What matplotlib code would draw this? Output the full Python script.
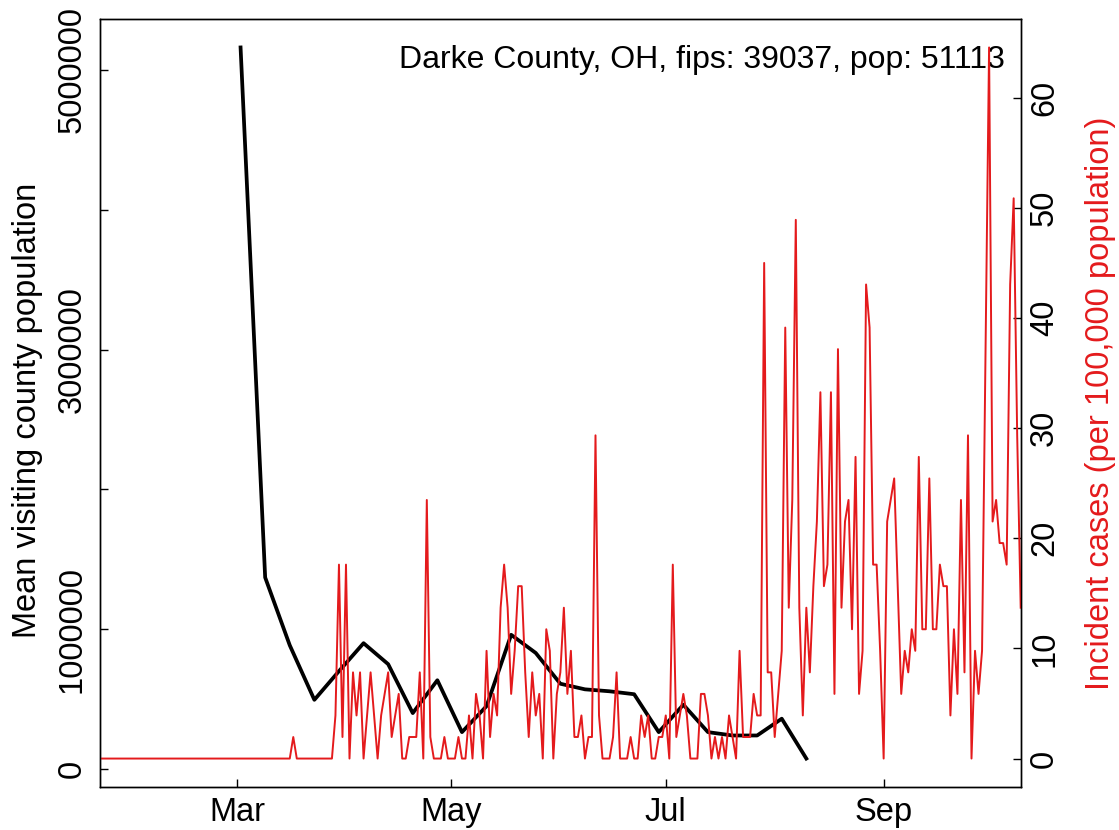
import numpy as np
import matplotlib
matplotlib.use("Agg")
import matplotlib.pyplot as plt
import matplotlib.dates as mdates

plt.rcParams['font.family'] = ['Liberation Sans', 'DejaVu Sans']

RED = "#E41A1C"
POP = 51113
TITLE = "Darke County, OH, fips: 39037, pop: 51113"
FS = 23.5

# daily new cases, starting 2020-01-22
case_start = "2020-01-22"
daily_cases = (
    [0] * 55 + [1] + [0] * 11 +
    [2, 9, 1, 9, 0, 4, 2, 4, 0, 2, 4, 2, 0, 2, 3, 4, 1, 2, 3, 0,
     0, 1, 1, 1, 4, 0, 12, 1, 0, 0, 0, 1, 0, 0, 0, 1, 0, 0, 2, 0,
     3, 2, 0, 5, 1, 3, 2, 7, 9, 7, 3, 5, 8, 8, 4, 1, 4, 2, 3, 0,
     6, 5, 0, 3, 4, 7, 3, 5, 1, 1, 2, 0, 1, 1, 15, 2, 0, 0, 0, 1,
     4, 0, 0, 0, 1, 0, 0, 2, 1, 2, 0, 0, 1, 1, 2, 0, 9, 1, 2, 3,
     2, 0, 0, 0, 3, 3, 2, 0, 1, 0, 1, 0, 2, 1, 0, 5, 1, 1, 1, 3,
     2, 2, 23, 4, 4, 1, 3, 5, 20, 7, 12, 25, 7, 2, 7, 4, 8, 11, 17, 8,
     9, 17, 3, 19, 7, 11, 12, 6, 14, 3, 5, 22, 20, 9, 9, 5, 0, 11, 12, 13,
     8, 3, 5, 4, 6, 5, 14, 6, 6, 13, 6, 6, 9, 8, 8, 2, 6, 3, 12, 4,
     15, 0, 5, 3, 5, 19, 33, 11, 12, 10, 10, 9, 22, 26, 15, 7]
)

# weekly mean visiting population, starting 2020-03-02
visit_start = "2020-03-02"
visitors = [5160000, 1370000, 885000, 495000, 700000, 900000, 750000, 400000,
            635000, 264000, 450000, 960000, 830000, 610000, 570000, 556000,
            535000, 264000, 460000, 264000, 240000, 240000, 360000, 75000]

case_dates = np.datetime64(case_start) + np.arange(len(daily_cases))
visit_dates = np.datetime64(visit_start) + 7 * np.arange(len(visitors))
incidence = np.array(daily_cases) / POP * 1e5


def r_limits(v):
    lo, hi = np.min(v), np.max(v)
    pad = 0.04 * (hi - lo)
    return lo - pad, hi + pad


fig = plt.figure(figsize=(11.19, 8.30), dpi=100)
ax = fig.add_axes([100 / 1119, 1 - 787 / 830, 920.7 / 1119, 768 / 830])

ax.plot(visit_dates, visitors, color="black", lw=2.7)
ax.set_ylim(*r_limits(visitors))
ax.set_xlim(case_dates[0], case_dates[-1])

left_ticks = [0, 1000000, 2000000, 3000000, 4000000, 5000000]
left_labels = ["0", "1000000", "", "3000000", "", "5000000"]
ax.set_yticks(left_ticks)
ax.set_yticklabels(left_labels, rotation=90, va="center")

ax.xaxis.set_major_locator(mdates.MonthLocator(bymonth=[3, 5, 7, 9]))
ax.xaxis.set_major_formatter(mdates.DateFormatter("%b"))

ax2 = ax.twinx()
ax2.plot(case_dates, incidence, color=RED, lw=1.4)
ax2.set_ylim(*r_limits(incidence))
ax2.set_xlim(case_dates[0], case_dates[-1])
ax2.set_yticks([0, 10, 20, 30, 40, 50, 60])
ax2.set_yticklabels(["0", "10", "20", "30", "40", "50", "60"], rotation=90, va="center")

for a in (ax, ax2):
    for s in a.spines.values():
        s.set_linewidth(1.0)
ax.tick_params(axis="both", direction="in", length=6, width=1.0, labelsize=FS)
ax.tick_params(axis="y", pad=9)
ax.tick_params(axis="x", pad=7)
ax2.tick_params(axis="y", direction="in", length=6, width=1.0, labelsize=FS, pad=6)

fig.text(28 / 1119, 1 - 410 / 830, "Mean visiting county population",
         rotation=90, ha="center", va="center", fontsize=FS)
fig.text(1100 / 1119, 1 - 403 / 830, "Incident cases (per 100,000 population)",
         rotation=90, ha="center", va="center", fontsize=FS, color=RED)

ax.text(0.983, 0.946, TITLE, transform=ax.transAxes, ha="right", va="center",
        fontsize=23)

fig.savefig("out.png", dpi=100)
